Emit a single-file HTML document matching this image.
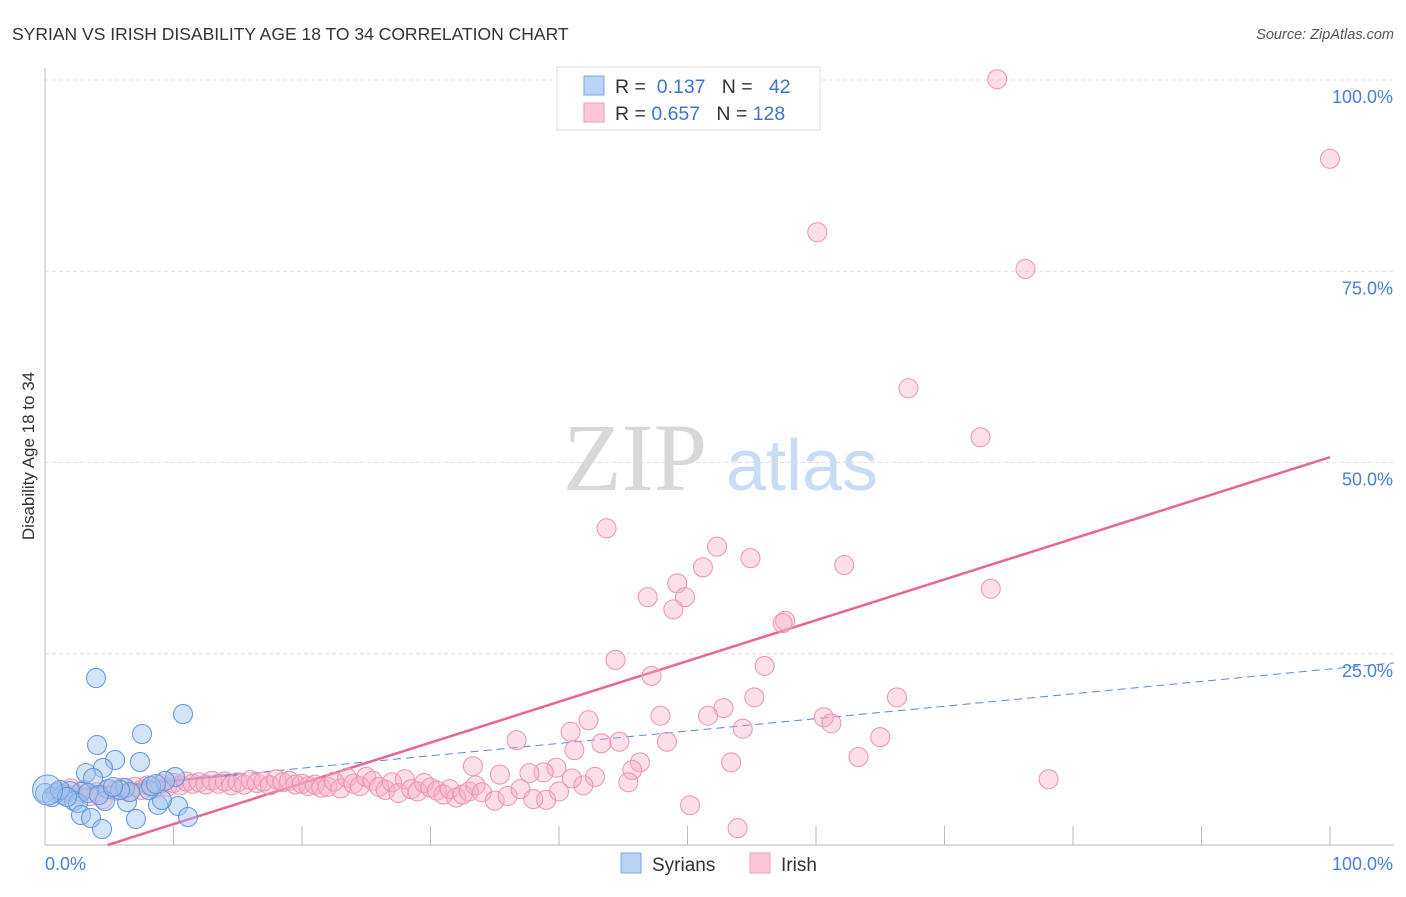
<!DOCTYPE html>
<html><head><meta charset="utf-8"><style>
body{margin:0;background:#fff;font-family:"Liberation Sans",sans-serif;}
</style></head><body>
<svg id="chart" width="1406" height="892" style="font-family:'Liberation Sans',sans-serif">
<text x="12" y="40" font-size="17.5" fill="#333">SYRIAN VS IRISH DISABILITY AGE 18 TO 34 CORRELATION CHART</text>
<text x="1394" y="39" font-size="14.5" fill="#555" font-style="italic" text-anchor="end">Source: ZipAtlas.com</text>
<text x="34" y="456" font-size="17" fill="#333" text-anchor="middle" transform="rotate(-90 34 456)">Disability Age 18 to 34</text>
<g><text x="635" y="490" font-size="96" fill="#d8d8d8" style="font-family:'Liberation Serif',serif" text-anchor="middle">ZIP</text><text x="802" y="490" font-size="72" fill="#c9dcf3" text-anchor="middle">atlas</text></g>
<g id="grid"></g><g id="axes"></g><g id="lines"></g><g id="pts"></g>
<g>
<rect x="557" y="67" width="263" height="63" fill="#fff" stroke="#ddd"/>
<rect x="584" y="76" width="20" height="19" fill="#b9d3f5" stroke="#7aa6e6"/>
<rect x="584" y="103" width="20" height="19" fill="#fcc7d6" stroke="#ee9db6"/>
<text x="615" y="93" font-size="19.5" fill="#333">R = <tspan fill="#3f73cc">&#160;0.137</tspan>&#160;&#160;&#160;N = <tspan fill="#3f73cc">&#160;&#160;42</tspan></text>
<text x="615" y="120" font-size="19.5" fill="#333">R = <tspan fill="#3f73cc">0.657</tspan>&#160;&#160;&#160;N = <tspan fill="#3f73cc">128</tspan></text>
</g>
<g>
<rect x="621" y="853" width="20" height="20" fill="#b9d3f5" stroke="#7aa6e6"/>
<text x="652" y="871" font-size="19" fill="#333">Syrians</text>
<rect x="750" y="853" width="20" height="20" fill="#fcc7d6" stroke="#ee9db6"/>
<text x="781" y="871" font-size="19" fill="#333">Irish</text>
</g>
</svg>
<script>
const syrX=[3.97,10.74,4.05,7.55,5.45,4.51,7.39,3.19,3.74,4.90,2.80,10.12,9.34,0.86,1.40,1.95,0,0.54,2.26,2.57,4.67,6.38,8.79,10.35,9.1,2.80,3.58,4.44,7.08,11.13,6.23,6.61,8.09,1.17,1.71,5.84,3.35,4.20,5.29,8.25,8.64];
const syrY=[21.83,17.12,13.07,14.51,11.11,10.07,10.85,9.41,8.76,7.32,6.93,8.89,8.37,6.80,6.54,7.06,6.8,6.27,5.75,5.49,5.75,5.62,5.23,5.10,5.88,3.92,3.53,2.09,3.40,3.66,7.45,6.93,7.19,7.19,6.27,7.19,6.80,6.54,7.58,7.71,7.97];
const irX=[74.1,100,60.1,76.3,67.2,72.8,43.7,52.3,54.9,51.2,62.2,49.2,46.9,49.8,48.9,73.6,57.6,57.4,44.4,56.0,47.2,55.2,66.3,52.8,47.9,51.6,42.3,60.6,61.2,36.7,40.9,54.3,65.0,43.3,44.7,48.4,41.2,63.3,46.3,53.4,33.3,45.7,39.8,38.8,37.7,35.4,78.1,42.8,45.4,41.9,50.2,53.9,
1,1.5,2,2.5,3,3.5,4,4.5,5,5.5,6,6.5,7,7.5,8,8.5,9,9.5,10,10.5,11,11.5,12,12.5,13,13.5,14,14.5,15,15.5,16,16.5,17,17.5,18,18.5,19,19.5,20,20.5,21,21.5,22,22.5,23,23.5,24,24.5,25,25.5,26,26.5,27,27.5,28,28.5,29,29.5,30,30.5,31,31.5,32,32.5,33,33.5,34,35,36,37,38,39,40,41];
const irY=[100.1,89.7,80.1,75.3,59.7,53.3,41.4,39.0,37.5,36.3,36.6,34.2,32.4,32.4,30.8,33.5,29.3,29.0,24.2,23.4,22.1,19.3,19.3,17.9,16.9,16.9,16.3,16.7,15.9,13.7,14.8,15.2,14.1,13.3,13.5,13.5,12.4,11.5,10.8,10.8,10.3,9.8,10.1,9.5,9.4,9.2,8.6,8.9,8.2,7.8,5.2,2.2,
7.0,6.8,7.4,6.6,7.2,6.4,6.9,6.0,7.3,7.1,7.5,6.9,7.6,7.2,7.8,7.4,8.0,7.6,8.1,7.8,8.3,8.0,8.2,7.9,8.4,8.0,8.3,7.8,8.2,7.9,8.5,8.1,8.3,7.8,8.6,8.2,8.4,7.9,8.0,7.7,7.9,7.5,7.6,8.3,7.4,8.8,8.0,7.7,8.9,8.4,7.6,7.2,8.2,6.8,8.6,7.3,7.0,8.1,7.5,7.1,6.6,7.3,6.2,6.6,7.0,7.8,6.9,5.8,6.4,7.3,6.0,5.9,7.0,8.7];
const yTicks=[25,50,75,100];
const yTickLabels=["25.0%","50.0%","75.0%","100.0%"];
const xTicks=[0,10,20,30,40,50,60,70,80,90,100];
const syrTrend=[6.8,23.0];
const irTrend=[-2.6,50.7];
const NS='http://www.w3.org/2000/svg';
const X=v=>45+v*12.85, Y=v=>845-v*7.65;
function mk(p,t,a){const e=document.createElementNS(NS,t);for(const k in a)e.setAttribute(k,a[k]);p.appendChild(e);return e;}
const grid=document.getElementById('grid'),axes=document.getElementById('axes'),lines=document.getElementById('lines'),pts=document.getElementById('pts');
yTicks.forEach((t,i)=>{
 const l=mk(grid,'line',{x1:45,x2:1394,y1:Y(t),y2:Y(t),stroke:'#ddd','stroke-dasharray':'4,3'});
 
 
 const tx=mk(axes,'text',{x:1393,y:Y(t)+23,'font-size':18,fill:'#4a7fd6','text-anchor':'end'});
 tx.textContent=yTickLabels[i];
 
 
});
const ya=mk(axes,'line',{x1:45,x2:45,y1:68,y2:845,stroke:'#bbb'});


const xa=mk(axes,'line',{x1:45,x2:1394,y1:845,y2:845,stroke:'#bbb'});


xTicks.forEach(t=>{
 const l=mk(axes,'line',{x1:X(t),x2:X(t),y1:826,y2:845,stroke:'#bbb'});
 
 
});
[[0,'0.0%','start',45],[100,'100.0%','end',1393]].forEach(a=>{
 const tx=mk(axes,'text',{x:a[3],y:870,'font-size':18,fill:'#4a7fd6','text-anchor':a[2]});
 tx.textContent=a[1];
 
 
});
irX.forEach((x,i)=>{
 const c=mk(pts,'circle',{cx:X(x),cy:Y(irY[i]),r:9.5,fill:'rgba(247,172,198,0.38)',stroke:'#ec94b2','stroke-width':1});
 
 
});
syrX.forEach((x,i)=>{
 const c=mk(pts,'circle',{cx:X(x),cy:Y(syrY[i]),r:9.5,fill:'rgba(160,196,240,0.45)',stroke:'#5f95dd','stroke-width':1});
 
 
});
const big=mk(pts,'circle',{cx:X(0.2),cy:Y(7.19),r:15,fill:'rgba(160,196,240,0.45)',stroke:'#5f95dd'});


const sy=x=>syrTrend[0]+(syrTrend[1]-syrTrend[0])*x/100;
const s1=mk(lines,'line',{x1:X(0),y1:Y(sy(0)),x2:X(15),y2:Y(sy(15)),stroke:'#3f6fc9','stroke-width':2.5});


const s2=mk(lines,'line',{x1:X(15),y1:Y(sy(15)),x2:X(105),y2:Y(sy(105)),stroke:'#5a88d6','stroke-width':1,'stroke-dasharray':'8,5'});


const iy=x=>irTrend[0]+(irTrend[1]-irTrend[0])*x/100;
const x0=-irTrend[0]/(irTrend[1]-irTrend[0])*100;
const il=mk(lines,'line',{x1:X(x0),y1:Y(0),x2:X(100),y2:Y(iy(100)),stroke:'#e8659a','stroke-width':2.5});


</script>
</body></html>
